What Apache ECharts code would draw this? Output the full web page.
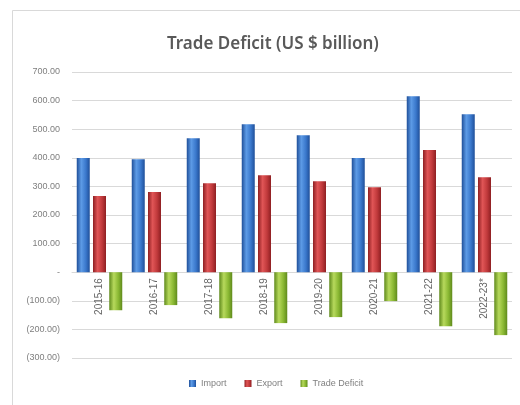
<!DOCTYPE html>
<html>
<head>
<meta charset="utf-8">
<script src="https://cdn.jsdelivr.net/npm/echarts@6/dist/echarts.min.js"></script>
<style>
html,body{margin:0;padding:0;background:#fff;}
#chart{width:520px;height:405px;}
</style>
</head>
<body>
<div id="chart"></div>
<script>
const categories = ['2015-16','2016-17','2017-18','2018-19','2019-20','2020-21','2021-22','2022-23*'];
const importVals = [399, 395, 468, 517, 479, 399, 615, 552];
const exportVals = [266, 280, 311, 339, 318, 297, 427, 332];
const deficitVals = [-133, -115, -161, -178, -157, -101, -189, -220];
const tickLabels = {'700':'700.00','600':'600.00','500':'500.00','400':'400.00','300':'300.00','200':'200.00','100':'100.00','0':'-','-100':'(100.00)','-200':'(200.00)','-300':'(300.00)'};
const yMin = -300, yMax = 700;

function cyl(dark, light, mid) {
  return new echarts.graphic.LinearGradient(0, 0, 1, 0, [
    {offset: 0, color: dark},
    {offset: 0.35, color: light},
    {offset: 0.7, color: mid},
    {offset: 1, color: dark}
  ]);
}

const gridTop = 72, gridBottom = 47, H = 405;
const gridH = H - gridTop - gridBottom;
const zeroOffset = -gridH * (0 - yMin) / (yMax - yMin);

const chart = echarts.init(document.getElementById('chart'), null, {renderer: 'canvas'});
chart.setOption({
  backgroundColor: '#fff',
  animation: false,
  graphic: [{
    type: 'rect', left: 10, top: 8, shape: {width: 515, height: 405},
    style: {fill: 'none', stroke: '#d9d9d9', lineWidth: 1}, silent: true
  }],
  title: {
    text: 'Trade Deficit (US $ billion)',
    left: 162, top: 31,
    textStyle: {fontFamily: 'Noto Sans', fontSize: 17, fontWeight: 600, color: '#595959'}
  },
  legend: {
    bottom: 12, left: 184,
    itemWidth: 7, itemHeight: 7, itemGap: 18, icon: 'rect',
    textStyle: {fontSize: 9, color: '#7f7f7f', fontFamily: 'Liberation Sans'},
    data: ['Import', 'Export', 'Trade Deficit']
  },
  grid: {left: 72, right: 8, top: gridTop, bottom: gridBottom},
  xAxis: {
    type: 'category',
    data: categories,
    offset: zeroOffset,
    axisLine: {onZero: false, lineStyle: {color: '#d9d9d9'}},
    axisTick: {show: false},
    axisLabel: {rotate: 90, fontSize: 10, color: '#666666', fontFamily: 'Liberation Sans', margin: 6}
  },
  yAxis: {
    type: 'value', min: yMin, max: yMax, interval: 100,
    axisLine: {show: false}, axisTick: {show: false},
    splitLine: {lineStyle: {color: '#d9d9d9'}},
    axisLabel: {
      fontSize: 9, color: '#7f7f7f', margin: 12, fontFamily: 'Liberation Sans',
      formatter: v => tickLabels[String(Math.round(v))]
    }
  },
  series: [
    {name: 'Import', type: 'bar', data: importVals, barWidth: 13, barGap: '25%',
     itemStyle: {color: cyl('#1f4f99', '#5d9be6', '#3a78cc')}},
    {name: 'Export', type: 'bar', data: exportVals, barWidth: 13,
     itemStyle: {color: cyl('#8e1f22', '#e05556', '#c0393b')}},
    {name: 'Trade Deficit', type: 'bar', data: deficitVals, barWidth: 13,
     itemStyle: {color: cyl('#5f8a1c', '#b7d95c', '#8ab833')}}
  ]
});
</script>
</body>
</html>
